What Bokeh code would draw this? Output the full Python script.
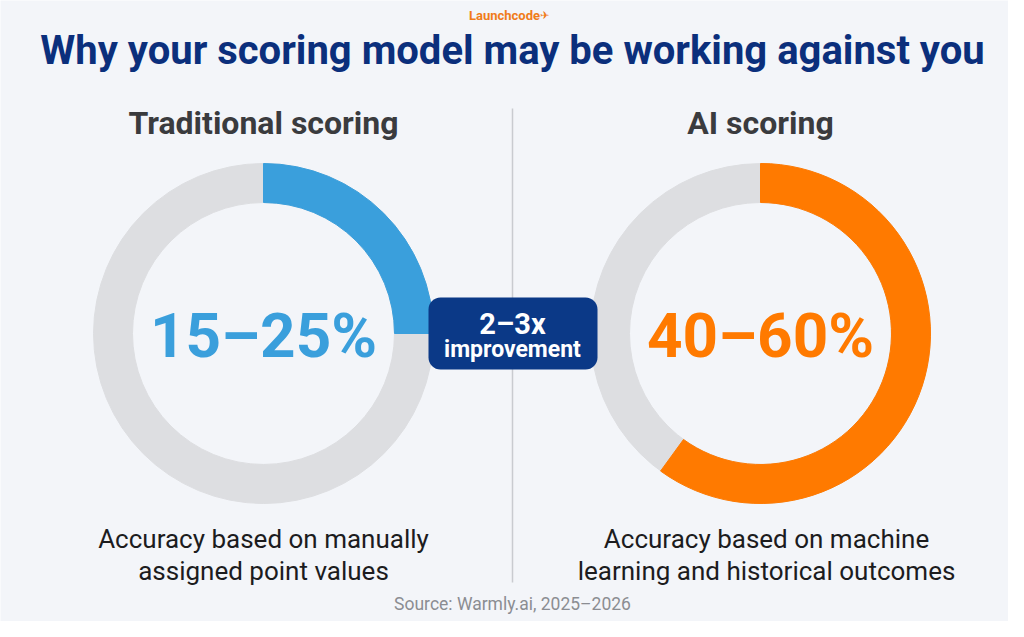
import math
from bokeh.plotting import figure
from bokeh.models import Range1d
from bokeh.core.properties import value
from bokeh.embed import file_html
from bokeh.resources import INLINE

# ---- data ----
panel_titles = ["Traditional scoring", "AI scoring"]
range_labels = ["15–25%", "40–60%"]
filled_pct = [25, 60]
desc_line1 = ["Accuracy based on manually", "Accuracy based on machine"]
desc_line2 = ["assigned point values", "learning and historical outcomes"]
badge_lines = ["2–3x", "improvement"]
title = "Why your scoring model may be working against you"
brand = "Launchcode"
source_note = "Source: Warmly.ai, 2025–2026"

# ---- style ----
BG = "#f3f5f9"
NAVY = "#0b2f7c"
BADGE = "#0b3987"
GRAY_RING = "#dddee1"
COLORS = ["#3a9fdc", "#ff7a00"]
FONT = "Roboto"

W, H = 1008, 621
p = figure(width=W, height=H, output_backend="svg", toolbar_location=None,
           x_range=Range1d(0, W), y_range=Range1d(0, H),
           min_border=0, background_fill_color=BG, border_fill_color=BG)
p.axis.visible = False
p.grid.visible = False
p.outline_line_color = None

def Y(ref_y):
    return H - ref_y

cx = [263, 760]
cy = [Y(333), Y(333)]
R_OUT, R_IN = 170, 131

# divider
p.segment(x0=[512], y0=[Y(108)], x1=[512], y1=[Y(582)], line_color="#c9cbd0", line_width=1.5)

# gray rings
p.annular_wedge(x=cx, y=cy, inner_radius=R_IN, outer_radius=R_OUT,
                start_angle=0, end_angle=2 * math.pi, color=GRAY_RING)
# filled arcs (clockwise from 12 o'clock)
starts = [math.pi / 2 - v / 100 * 2 * math.pi for v in filled_pct]
ends = [math.pi / 2] * 2
p.annular_wedge(x=cx, y=cy, inner_radius=R_IN, outer_radius=R_OUT,
                start_angle=starts, end_angle=ends, direction="anticlock",
                color=COLORS)

# big labels
p.text(x=cx, y=[Y(335), Y(335)], text=range_labels, text_color=COLORS,
       text_font=value(FONT), text_font_style="bold", text_font_size="62px",
       text_align="center", text_baseline="middle")

# panel titles
p.text(x=cx, y=[Y(122), Y(122)], text=panel_titles, text_color="#3a3b3e",
       text_font=value(FONT), text_font_style="bold", text_font_size="32px",
       text_align="center", text_baseline="middle")

# descriptions
dx = [263, 766]
p.text(x=dx, y=[Y(538)] * 2, text=desc_line1, text_color="#1c1c1e",
       text_font=value(FONT), text_font_size="26px",
       text_align="center", text_baseline="middle")
p.text(x=dx, y=[Y(570)] * 2, text=desc_line2, text_color="#1c1c1e",
       text_font=value(FONT), text_font_size="26px",
       text_align="center", text_baseline="middle")

# badge
p.quad(left=[428], right=[597], top=[Y(297)], bottom=[Y(369)],
       fill_color=BADGE, line_color=None, border_radius=12)
p.text(x=[512, 512], y=[Y(323), Y(349)], text=badge_lines, text_color="white",
       text_font=value(FONT), text_font_style="bold",
       text_font_size=["29px", "23px"],
       text_align="center", text_baseline="middle")

# title, brand, source
p.text(x=[512], y=[Y(50)], text=[title], text_color=NAVY,
       text_font=value(FONT), text_font_style="bold", text_font_size="40px",
       text_align="center", text_baseline="middle")
p.text(x=[504], y=[Y(15)], text=[brand], text_color="#f07c1a",
       text_font=value(FONT), text_font_style="bold", text_font_size="13px",
       text_align="center", text_baseline="middle")
p.text(x=[544], y=[Y(15)], text=["✈"], text_color="#f07c1a",
       text_font=value("DejaVu Sans"), text_font_size="11px",
       text_align="center", text_baseline="middle")
p.text(x=[512], y=[Y(603)], text=[source_note], text_color="#8b8d92",
       text_font=value(FONT), text_font_size="17.5px",
       text_align="center", text_baseline="middle")

open("out.html", "w").write(file_html(p, INLINE))
